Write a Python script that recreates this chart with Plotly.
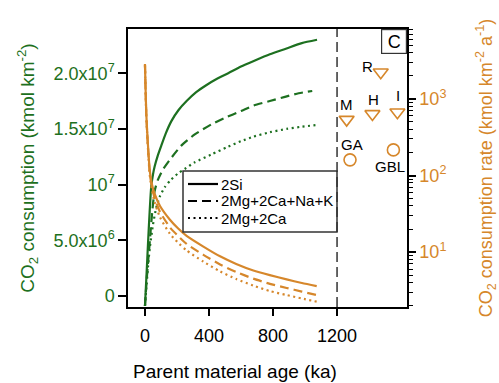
import math
import plotly.graph_objects as go

# ---------------- data ----------------
# Parent material age (ka) and CO2 consumption (kmol km-2), left axis
si_age = [0, 10, 19, 29, 39, 50, 60, 80, 102, 130, 165, 210, 260, 320, 380, 450, 520, 600, 680, 780, 880, 980, 1075]
si_cons = [-0.09e7, 0.20e7, 0.47e7, 0.75e7, 0.98e7, 1.09e7, 1.16e7, 1.26e7, 1.35e7, 1.46e7, 1.57e7, 1.67e7,
           1.75e7, 1.83e7, 1.89e7, 1.95e7, 2.00e7, 2.06e7, 2.11e7, 2.17e7, 2.22e7, 2.27e7, 2.30e7]

mgcank_age = [0, 10, 19, 29, 45, 60, 80, 110, 154, 227, 311, 414, 500, 600, 680, 780, 880, 960, 1045]
mgcank_cons = [-0.09e7, 0.13e7, 0.30e7, 0.47e7, 0.75e7, 0.94e7, 1.04e7, 1.13e7, 1.22e7, 1.35e7, 1.45e7,
               1.54e7, 1.60e7, 1.66e7, 1.71e7, 1.75e7, 1.79e7, 1.82e7, 1.84e7]

mgca_age = [0, 10, 20, 30, 50, 70, 92, 125, 160, 206, 248, 311, 414, 519, 600, 677, 780, 885, 980, 1075]
mgca_cons = [-0.09e7, 0.10e7, 0.28e7, 0.43e7, 0.64e7, 0.79e7, 0.89e7, 0.98e7, 1.04e7, 1.10e7, 1.14e7, 1.20e7,
             1.27e7, 1.34e7, 1.39e7, 1.43e7, 1.47e7, 1.50e7, 1.52e7, 1.535e7]

# CO2 consumption rate (kmol km-2 a-1), right log axis
rate_age = [0, 4, 8, 13, 19, 29, 42, 60, 94, 156, 206, 260, 365, 469, 570, 677, 780, 885, 980, 1073]
rate_si = [2860, 1300, 670, 400, 245, 122, 79, 58, 40, 26.5, 20.5, 16.3, 11.8, 8.8, 7.0, 5.75, 5.0, 4.4, 3.95, 3.6]
rate_mgcank = [2800, 1270, 650, 385, 232, 114, 73, 51, 33.5, 21, 16.3, 12.8, 9.2, 6.9, 5.5, 4.5, 3.85, 3.4, 3.05, 2.75]
rate_mgca = [2750, 1240, 630, 370, 220, 106, 67, 45, 28.5, 17.3, 13.3, 10.5, 7.5, 5.6, 4.45, 3.65, 3.1, 2.75, 2.48, 2.25]

# Observed sites (plotted right of the 1200 ka divider)
tri_sites = ["R", "M", "H", "I"]
tri_x = [1473, 1260, 1421, 1577]
tri_rate = [2230, 537, 637, 671]
circ_sites = ["GA", "GBL"]
circ_x = [1281, 1552]
circ_rate = [160, 216]

legend_names = ["2Si", "2Mg+2Ca+Na+K", "2Mg+2Ca"]

x_ticks = [0, 400, 800, 1200]
y_ticks = [0, 5e6, 1e7, 1.5e7, 2e7]
y_ticktext = ["0", "5.0x10<sup>6</sup>", "10<sup>7</sup>", "1.5x10<sup>7</sup>", "2.0x10<sup>7</sup>"]
y2_ticks = [10, 100, 1000]
y2_ticktext = ["10<sup>1</sup>", "10<sup>2</sup>", "10<sup>3</sup>"]

# ---------------- style ----------------
GREEN = "#1d7020"
ORANGE = "#d6872b"
FONT = "Liberation Sans, Arial, sans-serif"
DASH = "9px,5px"
DOT = "2px,3.5px"
STYLES = ["solid", DASH, DOT]

W, H = 499, 383
ML, MR, MT, MB = 128, 92, 29, 76
PW, PH = W - ML - MR, H - MT - MB


def px_x(p):
    return (p - ML) / PW


def px_y(p):
    return (H - MB - p) / PH


fig = go.Figure()

for xs, ys, d in zip([si_age, mgcank_age, mgca_age], [si_cons, mgcank_cons, mgca_cons], STYLES):
    fig.add_trace(go.Scatter(x=xs, y=ys, mode="lines", showlegend=False,
                             line=dict(color=GREEN, width=2.2, dash=d, shape="spline", smoothing=0.6)))

for ys, d in zip([rate_si, rate_mgcank, rate_mgca], STYLES):
    fig.add_trace(go.Scatter(x=rate_age, y=ys, mode="lines", showlegend=False, yaxis="y2",
                             line=dict(color=ORANGE, width=2.2, dash=d, shape="spline", smoothing=0.6)))

fig.add_trace(go.Scatter(x=tri_x, y=tri_rate, mode="markers", yaxis="y2", showlegend=False,
                         marker=dict(symbol="triangle-down-open", size=13, color=ORANGE,
                                     line=dict(width=1.6, color=ORANGE))))
fig.add_trace(go.Scatter(x=circ_x, y=circ_rate, mode="markers", yaxis="y2", showlegend=False,
                         marker=dict(symbol="circle-open", size=12, color=ORANGE,
                                     line=dict(width=1.6, color=ORANGE))))

# site labels, offset from their markers
label_offsets = {"R": (-13, 6), "M": (0, 15), "H": (1, 14), "I": (1, 17), "GA": (2, 15), "GBL": (-3, -17)}
for names, xs, rs in [(tri_sites, tri_x, tri_rate), (circ_sites, circ_x, circ_rate)]:
    for n, xv, rv in zip(names, xs, rs):
        dx, dy = label_offsets[n]
        fig.add_annotation(x=xv, y=math.log10(rv), xref="x", yref="y2", text=n, showarrow=False,
                           xshift=dx, yshift=dy, font=dict(size=15, color="black", family=FONT))

# legend box (drawn by hand to match the compact original)
fig.add_shape(type="rect", xref="paper", yref="paper", x0=px_x(183), x1=px_x(337), y0=px_y(232), y1=px_y(171),
              line=dict(color="#333", width=1.5), fillcolor="white", layer="above")
for i, (name, d) in enumerate(zip(legend_names, STYLES)):
    yy = px_y(184 + 17 * i)
    fig.add_shape(type="line", xref="paper", yref="paper", x0=px_x(188), x1=px_x(218), y0=yy, y1=yy,
                  line=dict(color="black", width=2.2, dash=d), layer="above")
    fig.add_annotation(x=px_x(219), y=yy, xref="paper", yref="paper", xanchor="left", yanchor="middle",
                       text=name, showarrow=False, font=dict(size=15, color="black", family=FONT))

# panel label
fig.add_annotation(x=1, y=1, xref="paper", yref="paper", xanchor="right", yanchor="top",
                   text="C", showarrow=False, font=dict(size=18, color="black", family=FONT),
                   bordercolor="#333", borderwidth=1.2, bgcolor="white", width=22, height=21)

# x-axis title (sits left of the plot centre in the original)
fig.add_annotation(x=px_x(235), y=px_y(371), xref="paper", yref="paper", xanchor="center", yanchor="middle",
                   text="Parent material age (ka)", showarrow=False,
                   font=dict(size=19, color="black", family=FONT))

# divider at 1200 ka
fig.add_shape(type="line", x0=1200, x1=1200, xref="x", y0=0, y1=1, yref="paper",
              line=dict(color="#333", width=1.5, dash="10px,5px"))

fig.update_layout(
    width=W, height=H,
    margin=dict(l=ML, r=MR, t=MT, b=MB, autoexpand=False),
    paper_bgcolor="white", plot_bgcolor="white",
    font=dict(family=FONT, size=18, color="black"),
    showlegend=False,
    xaxis=dict(range=[-106, 1637], tickvals=x_ticks, ticks="outside", ticklen=7, tickwidth=1.5,
               tickcolor="black", showline=True, linecolor="black", linewidth=1.5, mirror=True,
               showgrid=False, zeroline=False, automargin=False, ticklabelstandoff=5,
               tickfont=dict(size=18, color="black")),
    yaxis=dict(range=[-0.0987e7, 2.3968e7], tickvals=y_ticks, ticktext=y_ticktext, ticks="outside",
               ticklen=8, tickwidth=1.5, tickcolor="black", showline=True, linecolor="black", linewidth=1.5,
               showgrid=False, zeroline=False, automargin=False, tickfont=dict(size=18, color=GREEN),
               title=dict(text="CO<sub>2</sub> consumption (kmol km<sup>-2</sup>)",
                          font=dict(size=19, color=GREEN), standoff=14)),
    yaxis2=dict(overlaying="y", side="right", type="log", range=[0.283, 3.913], tickvals=y2_ticks,
                ticktext=y2_ticktext, ticks="outside", ticklen=7, tickwidth=1.5, tickcolor="black",
                showline=True, linecolor="black", linewidth=1.5, showgrid=False, zeroline=False,
                automargin=False, tickfont=dict(size=18, color=ORANGE),
                minor=dict(ticks="outside", ticklen=4, tickcolor="black", tickwidth=1,
                           tickvals=[m * 10 ** k for k in range(0, 4) for m in range(2, 10)], showgrid=False),
                title=dict(text="CO<sub>2</sub> consumption rate (kmol km<sup>-2</sup> a<sup>-1</sup>)",
                           font=dict(size=18, color=ORANGE), standoff=34)),
)

fig.write_html("out.html", config={"displayModeBar": False},
               post_script="document.body.style.margin='0px';")
